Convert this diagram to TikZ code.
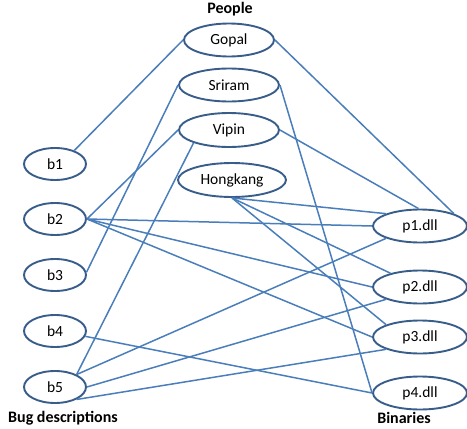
\documentclass[tikz,border=0pt]{standalone}
\usepackage{fontspec}
\setmainfont{Carlito}
\usetikzlibrary{shapes.geometric}

\definecolor{ringblue}{RGB}{56,93,138}
\definecolor{wireblue}{RGB}{74,126,187}

\tikzset{
	blob/.style={ellipse,draw=ringblue,line width=1.9pt,inner sep=0pt,minimum height=33pt,font=\fontsize{15.5}{18}\selectfont},
	wire/.style={draw=wireblue,line width=1.5pt},
	heading/.style={font=\fontsize{16}{19}\selectfont\bfseries}
}

\begin{document}
\begin{tikzpicture}[x=1pt,y=-1pt]
		\useasboundingbox (0,0) rectangle (467,429);
	
		% people
		\node[heading] (hpeople) at (230,9) {People};
		\node[blob,minimum width=90pt] (gopal) at (229,40) {Gopal};
		\node[blob,minimum width=100pt] (sriram) at (229,85) {Sriram};
		\node[blob,minimum width=100pt,minimum height=34pt] (vipin) at (229,130) {Vipin};
		\node[blob,minimum width=108pt,minimum height=34pt] (hongkang) at (232,180) {Hongkang};
		
		% bug descriptions
		\node[blob,minimum width=62pt,minimum height=32pt] (b1) at (55,164) {b1};
		\node[blob,minimum width=62pt,minimum height=32pt] (b2) at (55,219) {b2};
		\node[blob,minimum width=62pt,minimum height=32pt] (b3) at (55,275) {b3};
		\node[blob,minimum width=62pt,minimum height=32pt] (b4) at (55,331) {b4};
		\node[blob,minimum width=62pt,minimum height=32pt] (b5) at (55,387) {b5};
		\node[heading] (hbugs) at (63,418) {Bug descriptions};
		
		% binaries
		\node[blob,minimum width=94pt] (p1) at (420,226) {p1.dll};
		\node[blob,minimum width=94pt] (p2) at (420,287) {p2.dll};
		\node[blob,minimum width=94pt] (p3) at (420,337) {p3.dll};
		\node[blob,minimum width=94pt] (p4) at (420,393) {p4.dll};
		\node[heading] (hbin) at (404,418) {Binaries};
		
		\draw[wire] (gopal.west) -- (b1.35);
		\draw[wire] (gopal.east) -- (p1.20);
		\draw[wire] (sriram.west) -- (b3.5);
		\draw[wire] (sriram.east) -- (p4.west);
		\draw[wire] (vipin.west) -- (b2.east);
		\draw[wire] (vipin.200) -- (b5.30);
		\draw[wire] (vipin.east) -- (p1.95);
		\draw[wire] (hongkang.south) -- (p1.160);
		\draw[wire] (hongkang.south) -- (p2.155);
		\draw[wire] (hongkang.south) -- (p3.160);
		
		\draw[wire] (b2.east) -- (p1.west);
		\draw[wire] (b2.east) -- (p2.west);
		\draw[wire] (b2.east) -- (p3.west);
		\draw[wire] (b4.-10) -- (p4.west);
		\draw[wire] (b5.30) -- (p1.200);
		\draw[wire] (b5.east) -- (p2.200);
		\draw[wire] (b5.-30) -- (p3.200);
	\end{tikzpicture}
\end{document}
